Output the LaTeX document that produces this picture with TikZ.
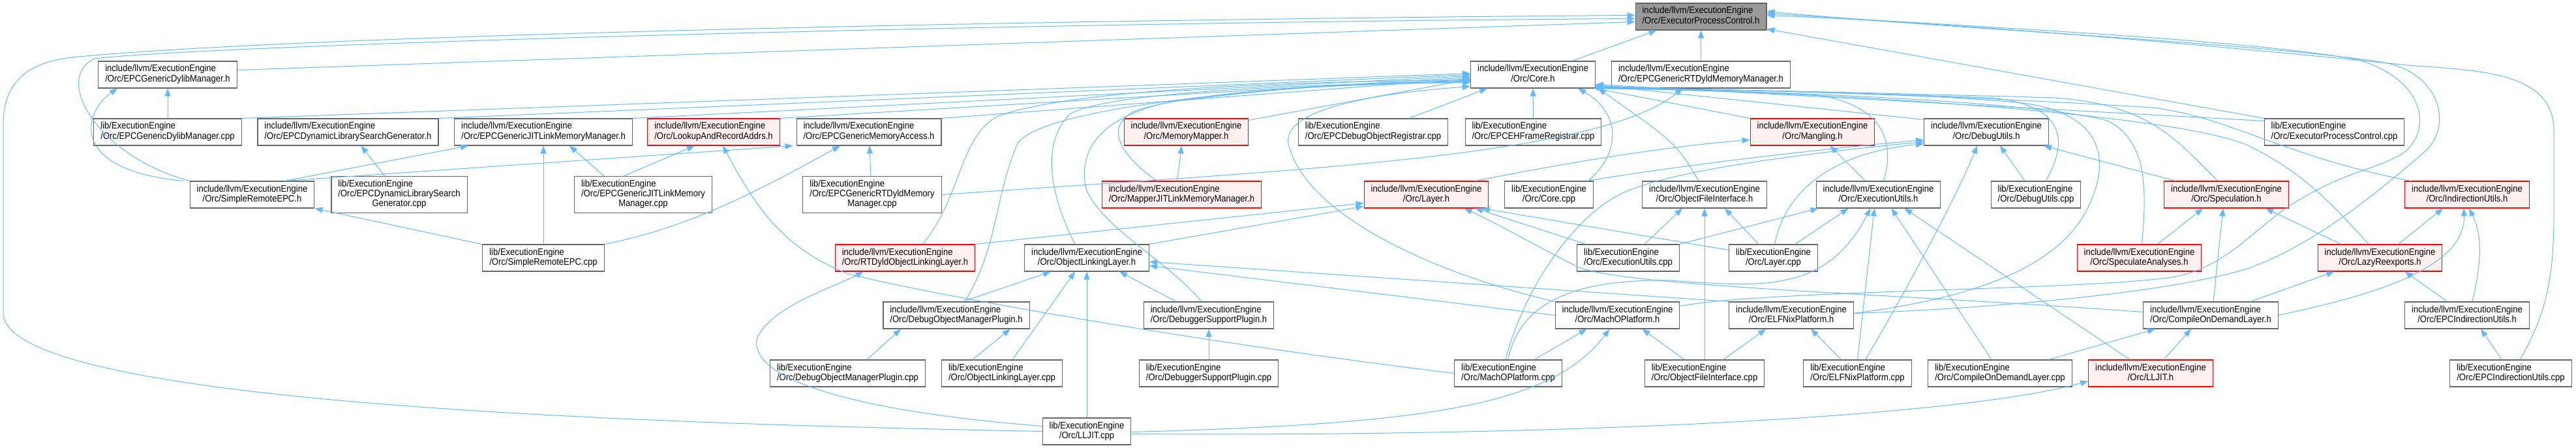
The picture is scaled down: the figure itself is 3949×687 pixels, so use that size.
\documentclass[tikz,border=0pt]{standalone}
\usepackage{fontspec}
\setmainfont{Liberation Sans}[FakeStretch=0.9]
\usetikzlibrary{arrows.meta}
\definecolor{edgeblue}{HTML}{63B8FF}
\definecolor{gray40}{HTML}{666666}
\definecolor{grey60}{HTML}{999999}
\definecolor{redfill}{HTML}{FFF0F0}
\newcommand{\filefont}{\fontsize{14.5}{15}\selectfont}
% all lines but the last left, the last centred
\newcommand{\flab}[2]{\begin{tabular}{@{}l@{}}#1\\\multicolumn{1}{@{}c@{}}{#2}\end{tabular}}
\newcommand{\flabc}[3]{\begin{tabular}{@{}l@{}}#1\\#2\\\multicolumn{1}{@{}c@{}}{#3}\end{tabular}}
\newcommand{\inc}{include/llvm/ExecutionEngine}
\newcommand{\lib}{lib/ExecutionEngine}
\tikzset{
  file/.style={draw=gray40, line width=1.1pt, fill=white, inner xsep=10.5pt, inner ysep=0pt, minimum height=41pt, font=\filefont},
  redfile/.style={file, draw=red, fill=redfill},
  curfile/.style={file, fill=grey60},
  incl/.style={draw=edgeblue, line width=1pt, -{Triangle[length=12pt,width=9pt]}},
}
\begin{document}
\begin{tikzpicture}[x=1pt,y=-1pt]
\useasboundingbox (0,0) rectangle (3949,687);
% row 0
\node[curfile] (epch) at (2607.5,25.5) {\flab{\inc}{/Orc/ExecutorProcessControl.h}};
% row 1
\node[file] (dylibh) at (257,114.5) {\flab{\inc}{/Orc/EPCGenericDylibManager.h}};
\node[file] (core) at (2350,114.5) {\flab{\inc}{/Orc/Core.h}};
\node[file] (rtdyldh) at (2607.5,114.5) {\flab{\inc}{/Orc/EPCGenericRTDyldMemoryManager.h}};
% row 2
\node[file] (dylibcpp) at (257,202.5) {\flab{\lib}{/Orc/EPCGenericDylibManager.cpp}};
\node[file] (dlsgh) at (533.5,202.5) {\flab{\inc}{/Orc/EPCDynamicLibrarySearchGenerator.h}};
\node[file] (jitlmmh) at (833,202.5) {\flab{\inc}{/Orc/EPCGenericJITLinkMemoryManager.h}};
\node[redfile] (lookuph) at (1094,202.5) {\flab{\inc}{/Orc/LookupAndRecordAddrs.h}};
\node[file] (memaccessh) at (1332,202.5) {\flab{\inc}{/Orc/EPCGenericMemoryAccess.h}};
\node[redfile] (mmapperh) at (1818.5,202.5) {\flab{\inc}{/Orc/MemoryMapper.h}};
\node[file] (dbgregcpp) at (2105,202.5) {\flab{\lib}{/Orc/EPCDebugObjectRegistrar.cpp}};
\node[file] (ehframecpp) at (2350.5,202.5) {\flab{\lib}{/Orc/EPCEHFrameRegistrar.cpp}};
\node[redfile] (manglingh) at (2778.5,202.5) {\flab{\inc}{/Orc/Mangling.h}};
\node[file] (dbgutilsh) at (3045,202.5) {\flab{\inc}{/Orc/DebugUtils.h}};
\node[file] (epccpp) at (3578.5,202.5) {\flab{\lib}{/Orc/ExecutorProcessControl.cpp}};
% row 3
\node[file] (sreph) at (386.5,298.5) {\flab{\inc}{/Orc/SimpleRemoteEPC.h}};
\node[file, minimum height=56pt] (dlsgcpp) at (612,298.5) {\flabc{\lib}{/Orc/EPCDynamicLibrarySearch}{Generator.cpp}};
\node[file, minimum height=56pt] (jitlmmcpp) at (986,298.5) {\flabc{\lib}{/Orc/EPCGenericJITLinkMemory}{Manager.cpp}};
\node[file, minimum height=56pt] (rtdyldcpp) at (1337,298.5) {\flabc{\lib}{/Orc/EPCGenericRTDyldMemory}{Manager.cpp}};
\node[redfile] (mappermmh) at (1811.5,298.5) {\flab{\inc}{/Orc/MapperJITLinkMemoryManager.h}};
\node[redfile] (layerh) at (2186.5,298.5) {\flab{\inc}{/Orc/Layer.h}};
\node[file] (corecpp) at (2374.5,298.5) {\flab{\lib}{/Orc/Core.cpp}};
\node[file] (ofih) at (2613,298.5) {\flab{\inc}{/Orc/ObjectFileInterface.h}};
\node[file] (executilsh) at (2879.5,298.5) {\flab{\inc}{/Orc/ExecutionUtils.h}};
\node[file] (dbgutilscpp) at (3121,298.5) {\flab{\lib}{/Orc/DebugUtils.cpp}};
\node[redfile] (speculationh) at (3413,298.5) {\flab{\inc}{/Orc/Speculation.h}};
\node[redfile] (indirh) at (3782,298.5) {\flab{\inc}{/Orc/IndirectionUtils.h}};
% row 4
\node[file] (srepcpp) at (833,395.5) {\flab{\lib}{/Orc/SimpleRemoteEPC.cpp}};
\node[redfile] (rtdyldollh) at (1387.5,395.5) {\flab{\inc}{/Orc/RTDyldObjectLinkingLayer.h}};
\node[file] (ollh) at (1666,395.5) {\flab{\inc}{/Orc/ObjectLinkingLayer.h}};
\node[file] (executilscpp) at (2496,395.5) {\flab{\lib}{/Orc/ExecutionUtils.cpp}};
\node[file] (layercpp) at (2718.5,395.5) {\flab{\lib}{/Orc/Layer.cpp}};
\node[redfile] (specanalysesh) at (3279.5,395.5) {\flab{\inc}{/Orc/SpeculateAnalyses.h}};
\node[redfile] (lazyreexh) at (3648.5,395.5) {\flab{\inc}{/Orc/LazyReexports.h}};
% row 5
\node[file] (domph) at (1466,483.5) {\flab{\inc}{/Orc/DebugObjectManagerPlugin.h}};
\node[file] (dsph) at (1853,483.5) {\flab{\inc}{/Orc/DebuggerSupportPlugin.h}};
\node[file] (machoh) at (2479.5,483.5) {\flab{\inc}{/Orc/MachOPlatform.h}};
\node[file] (elfnixh) at (2746,483.5) {\flab{\inc}{/Orc/ELFNixPlatform.h}};
\node[file] (codlh) at (3389,483.5) {\flab{\inc}{/Orc/CompileOnDemandLayer.h}};
\node[file] (epcindirh) at (3782,483.5) {\flab{\inc}{/Orc/EPCIndirectionUtils.h}};
% row 6
\node[file] (dompcpp) at (1299.5,572.5) {\flab{\lib}{/Orc/DebugObjectManagerPlugin.cpp}};
\node[file] (ollcpp) at (1536,572.5) {\flab{\lib}{/Orc/ObjectLinkingLayer.cpp}};
\node[file] (dspcpp) at (1853,572.5) {\flab{\lib}{/Orc/DebuggerSupportPlugin.cpp}};
\node[file] (machocpp) at (2312,572.5) {\flab{\lib}{/Orc/MachOPlatform.cpp}};
\node[file] (oficpp) at (2613,572.5) {\flab{\lib}{/Orc/ObjectFileInterface.cpp}};
\node[file] (elfnixcpp) at (2847.5,572.5) {\flab{\lib}{/Orc/ELFNixPlatform.cpp}};
\node[file] (codlcpp) at (3066,572.5) {\flab{\lib}{/Orc/CompileOnDemandLayer.cpp}};
\node[redfile] (lljith) at (3297,572.5) {\flab{\inc}{/Orc/LLJIT.h}};
\node[file] (epcindircpp) at (3849,572.5) {\flab{\lib}{/Orc/EPCIndirectionUtils.cpp}};
% row 7
\node[file] (lljitcpp) at (1666,661.5) {\flab{\lib}{/Orc/LLJIT.cpp}};

% into ExecutorProcessControl.h
\draw[incl] ([xshift=60pt]core.north) -- ([xshift=-68pt]epch.south);
\draw[incl] (rtdyldh) -- (epch);
\draw[incl] ([yshift=7pt]dylibh.east) -- ([yshift=-8pt]epch.west);
\draw[incl] (sreph.north west) .. controls (150,240) and (80,120) .. (145,90) .. controls (300,70) and (1500,35) .. ([yshift=-3pt]epch.west);
\draw[incl] (lljitcpp.west) .. controls (1000,650) and (5,620) .. (5,480) -- (5,190) .. controls (5,120) and (50,95) .. (110,88) .. controls (500,50) and (1800,28) .. ([yshift=2pt]epch.west);
\draw[incl] (epccpp.north west) -- ([yshift=-19pt]epch.east);
\draw[incl] ([xshift=14pt]epcindircpp.north) .. controls (3905,480) and (3915,420) .. (3915,330) -- (3915,200) .. controls (3915,110) and (3800,108) .. (3690,100) .. controls (3400,70) and (3000,35) .. ([yshift=2pt]epch.east);
\draw[incl] ([yshift=-7pt]machoh.north east) .. controls (2700,445) and (3200,445) .. (3330,425) .. controls (3420,410) and (3460,340) .. (3536,300) .. controls (3600,262) and (3660,255) .. (3690,230) .. controls (3730,190) and (3710,120) .. (3616,92) .. controls (3450,60) and (3000,40) .. ([yshift=5pt]epch.east);
\draw[incl] ([yshift=3pt]elfnixh.east) .. controls (3000,475) and (3300,455) .. (3442,413) .. controls (3540,380) and (3640,300) .. (3720,230) .. controls (3760,190) and (3740,110) .. (3650,95) .. controls (3450,65) and (3000,45) .. ([yshift=8pt]epch.east);
% into Core.h
\draw[incl] (dylibcpp.north east) -- ([yshift=2pt]core.west);
\draw[incl] (dlsgh.north east) -- ([yshift=0pt]core.west);
\draw[incl] (jitlmmh.north east) -- ([yshift=-2pt]core.west);
\draw[incl] (lookuph.north east) -- ([yshift=-4pt]core.west);
\draw[incl] (memaccessh.north east) -- ([yshift=-6pt]core.west);
\draw[incl] ([yshift=-3pt]mmapperh.north east) -- ([yshift=-7pt]core.west);
\draw[incl] ([xshift=27pt]rtdyldollh.north) .. controls (1475,300) and (1470,210) .. (1530,178) .. controls (1650,135) and (2000,125) .. ([yshift=-8pt]core.west);
\draw[incl] ([xshift=13pt]domph.north) .. controls (1530,380) and (1525,300) .. (1560,220) .. controls (1600,160) and (2000,128) .. ([yshift=-9pt]core.west);
\draw[incl] ([xshift=-18pt]ollh.north) .. controls (1610,300) and (1595,220) .. (1640,175) .. controls (1700,140) and (2000,130) .. ([yshift=-10pt]core.west);
\draw[incl] ([xshift=-11pt]dsph.north) .. controls (1790,400) and (1690,350) .. (1665,290) .. controls (1650,220) and (1700,175) .. (1800,155) .. controls (2000,132) .. ([yshift=-11pt]core.west);
\draw[incl] ([xshift=-38pt]mappermmh.north) .. controls (1720,240) and (1690,195) .. (1740,170) .. controls (1850,135) and (2100,128) .. ([yshift=-12pt]core.west);
\draw[incl] (machoh.north west) .. controls (2200,420) and (2000,330) .. (1975,220) .. controls (1965,160) and (2150,140) .. ([yshift=3pt]core.south west);
\draw[incl] ([xshift=55pt]dbgregcpp.north) -- ([xshift=-70pt]core.south);
\draw[incl] (ehframecpp) -- (core);
\draw[incl] ([xshift=60pt]corecpp.north) .. controls (2490,230) and (2480,170) .. ([xshift=69pt]core.south);
\draw[incl] ([xshift=-9pt]ofih.north) .. controls (2570,220) .. ([xshift=4pt]core.south east);
\draw[incl] (manglingh.north west) -- (core.south east);
\draw[incl] ([yshift=-2pt]dbgutilsh.north west) -- ([yshift=5pt]core.south east);
\draw[incl] ([xshift=8pt]executilsh.north) .. controls (2905,220) and (2890,160) .. (2780,145) -- ([yshift=4pt]core.south east);
\draw[incl] ([xshift=15pt]dbgutilscpp.north) .. controls (3170,220) and (3170,160) .. (3050,150) .. controls (2800,140) and (2500,135) .. ([yshift=3pt]core.south east);
\draw[incl] ([xshift=-13pt]speculationh.north) .. controls (3340,220) and (3300,160) .. (3150,150) .. controls (2800,140) and (2500,135) .. ([yshift=2pt]core.south east);
\draw[incl] ([xshift=-86pt]indirh.north) .. controls (3500,240) and (3420,180) .. (3300,165) .. controls (2900,140) and (2500,135) .. ([yshift=1pt]core.south east);
\draw[incl] ([yshift=-4pt]epccpp.north west) -- ([yshift=6pt]core.south east);
\draw[incl] ([xshift=4pt]specanalysesh.north) .. controls (3290,300) and (3295,215) .. (3230,185) .. controls (3100,150) and (2600,137) .. ([xshift=-2pt]core.south east);
\draw[incl] ([yshift=3pt]elfnixh.east) .. controls (3000,460) and (3150,420) .. (3200,320) .. controls (3240,240) and (3220,170) .. (3091,157) .. controls (2900,140) and (2600,137) .. ([xshift=-3pt]core.south east);
\draw[incl] ([xshift=-17pt]lazyreexh.north) .. controls (3580,320) and (3540,270) .. (3450,225) .. controls (3350,175) and (2800,140) .. ([xshift=-1pt]core.south east);
% left cluster
\draw[incl] (dylibcpp) -- (dylibh);
\draw[incl] (dlsgcpp) -- ([xshift=20pt]dlsgh.south);
\draw[incl] ([xshift=-10pt]sreph.north west) .. controls (100,260) and (130,170) .. ([xshift=-77pt]dylibh.south);
\draw[incl] ([xshift=50pt]sreph.north) -- ([xshift=-115pt]jitlmmh.south);
\draw[incl] ([xshift=50pt]sreph.north) -- ([xshift=-5pt]memaccessh.south west);
\draw[incl] ([xshift=-95pt]srepcpp.north) -- (sreph.south east);
\draw[incl] (srepcpp.north) -- (srepcpp.north |- jitlmmh.south);
\draw[incl] (srepcpp.north east) .. controls (1050,350) and (1150,300) .. ([xshift=-44pt]memaccessh.south);
\draw[incl] ([xshift=-60pt]jitlmmcpp.north) -- ([xshift=40pt]jitlmmh.south);
\draw[incl] ([xshift=-30pt]jitlmmcpp.north) -- ([xshift=-29pt]lookuph.south);
\draw[incl] ([xshift=-2pt]rtdyldcpp.north) -- ([xshift=1pt]memaccessh.south);
\draw[incl] (rtdyldcpp.east) .. controls (2000,260) and (2450,240) .. ([xshift=-28pt]rtdyldh.south);
\draw[incl] (machocpp.west) .. controls (1800,520) and (1420,450) .. (1300,420) .. controls (1200,380) and (1160,320) .. ([xshift=14pt]lookuph.south);
\draw[incl] ([xshift=-7pt]mappermmh.north) -- ([xshift=-7pt]mmapperh.south);
% layer cluster
\draw[incl] ([xshift=75pt]layerh.north) .. controls (2400,250) and (2550,225) .. ([yshift=-12pt]manglingh.west);
\draw[incl] (rtdyldollh.north east) -- ([yshift=-13pt]layerh.west);
\draw[incl] (ollh.north east) -- ([yshift=-18pt]layerh.west);
\draw[incl] ([yshift=5pt]codlh.west) .. controls (2900,450) and (2500,440) .. (2420,410) .. controls (2360,380) and (2300,345) .. ([xshift=58pt]layerh.south);
\draw[incl] ([xshift=14pt]executilscpp.north west) -- ([xshift=75pt]layerh.south);
\draw[incl] ([yshift=12pt]layercpp.west) -- ([xshift=85pt]layerh.south);
\draw[incl] ([xshift=-20pt]executilsh.north) -- ([xshift=27pt]manglingh.south);
\draw[incl] ([xshift=-17pt]dbgutilscpp.north) -- ([xshift=21pt]dbgutilsh.south);
\draw[incl] ([xshift=18pt]speculationh.north west) -- ([xshift=-8pt]dbgutilsh.south east);
\draw[incl] ([xshift=58pt]corecpp.north) .. controls (2600,250) and (2800,228) .. ([yshift=-12pt]dbgutilsh.west);
% object linking
\draw[incl] ([xshift=10pt]domph.north) -- ([xshift=-55pt]ollh.south);
\draw[incl] ([xshift=-45pt]ollcpp.north) -- ([xshift=-30pt]domph.south east);
\draw[incl] ([xshift=16pt]ollcpp.north) -- ([xshift=-18pt]ollh.south);
\draw[incl] ([xshift=-90pt]dompcpp.north east) -- ([xshift=-85pt]domph.south);
\draw[incl] ([xshift=-50pt]dsph.north) -- ([xshift=50pt]ollh.south);
\draw[incl] (dspcpp) -- (dsph);
\draw[incl] (lljitcpp) -- (ollh);
\draw[incl] ([yshift=8pt]lljitcpp.west) .. controls (1300,630) and (1150,580) .. (1160,520) .. controls (1180,470) and (1280,440) .. ([xshift=-64pt]rtdyldollh.south);
\draw[incl] ([yshift=-1pt]lljitcpp.east) .. controls (2200,650) and (2380,620) .. ([xshift=-12pt]machoh.south);
\draw[incl] ([yshift=-4pt]lljitcpp.east) .. controls (2400,670) and (3000,640) .. ([yshift=-12pt]lljith.west);
\draw[incl] (machoh.west) -- ([yshift=-12pt]ollh.east);
\draw[incl] (elfnixh.north west) -- ([yshift=-6pt]ollh.east);
\draw[incl] ([xshift=40pt]machocpp.north) -- ([xshift=-47pt]machoh.south);
\draw[incl] ([xshift=-31pt]oficpp.north) -- ([xshift=38pt]machoh.south);
\draw[incl] (oficpp) -- (ofih);
\draw[incl] ([xshift=29pt]oficpp.north) -- ([xshift=-39pt]elfnixh.south);
\draw[incl] ([xshift=-25pt]elfnixcpp.north) -- ([xshift=30pt]elfnixh.south);
% utilities
\draw[incl] (executilscpp.north east) -- ([xshift=-92pt]executilsh.south);
\draw[incl] ([xshift=25pt]executilscpp.north) -- ([xshift=-34pt]ofih.south);
\draw[incl] ([xshift=-91pt]layercpp.north east) -- ([xshift=31pt]ofih.south);
\draw[incl] ([xshift=2pt]layercpp.north) .. controls (2735,300) and (2800,235) .. ([yshift=-18pt]dbgutilsh.west);
\draw[incl] ([xshift=-35pt]layercpp.north east) -- ([xshift=-46pt]executilsh.south);
\draw[incl] (elfnixcpp.north) -- ([xshift=-6pt]executilsh.south);
\draw[incl] ([xshift=-13pt]codlcpp.north) -- ([xshift=20pt]executilsh.south);
\draw[incl] ([xshift=-32pt]lljith.north) -- ([xshift=40pt]executilsh.south);
\draw[incl] ([xshift=12pt]elfnixcpp.north) .. controls (2920,450) and (3000,300) .. ([xshift=-14pt]dbgutilsh.south);
\draw[incl] (machocpp.north) .. controls (2330,460) and (2420,428) .. (2560,430) .. controls (2700,440) and (2800,450) .. ([xshift=-12pt]executilsh.south);
\draw[incl] ([xshift=-4pt]machocpp.north) .. controls (2340,430) and (2420,330) .. (2480,300) .. controls (2550,260) and (2800,232) .. ([yshift=-15pt]dbgutilsh.west);
% speculation and indirection
\draw[incl] ([xshift=-68pt]specanalysesh.north east) -- ([xshift=-36pt]speculationh.south);
\draw[incl] ([xshift=4pt]codlh.north) -- ([xshift=-5pt]speculationh.south);
\draw[incl] ([xshift=-60pt]lazyreexh.north) -- ([xshift=60pt]speculationh.south);
\draw[incl] ([xshift=28pt]lazyreexh.north) -- ([xshift=-37pt]indirh.south);
\draw[incl] (codlh.east) .. controls (3600,460) and (3780,420) .. ([xshift=-5pt]indirh.south);
\draw[incl] ([xshift=8pt]epcindirh.north) .. controls (3805,400) and (3805,360) .. ([xshift=3pt]indirh.south);
\draw[incl] ([xshift=-43pt]codlh.north east) -- ([xshift=-70pt]lazyreexh.south);
\draw[incl] ([xshift=-126pt]epcindirh.north east) -- ([xshift=38pt]lazyreexh.south);
\draw[incl] ([xshift=80pt]epcindircpp.north west) -- ([xshift=21pt]epcindirh.south);
\draw[incl] ([xshift=-36pt]codlcpp.north east) -- ([xshift=-85pt]codlh.south);
\draw[incl] ([xshift=-76pt]lljith.north east) -- ([xshift=-30pt]codlh.south);
\end{tikzpicture}
\end{document}
